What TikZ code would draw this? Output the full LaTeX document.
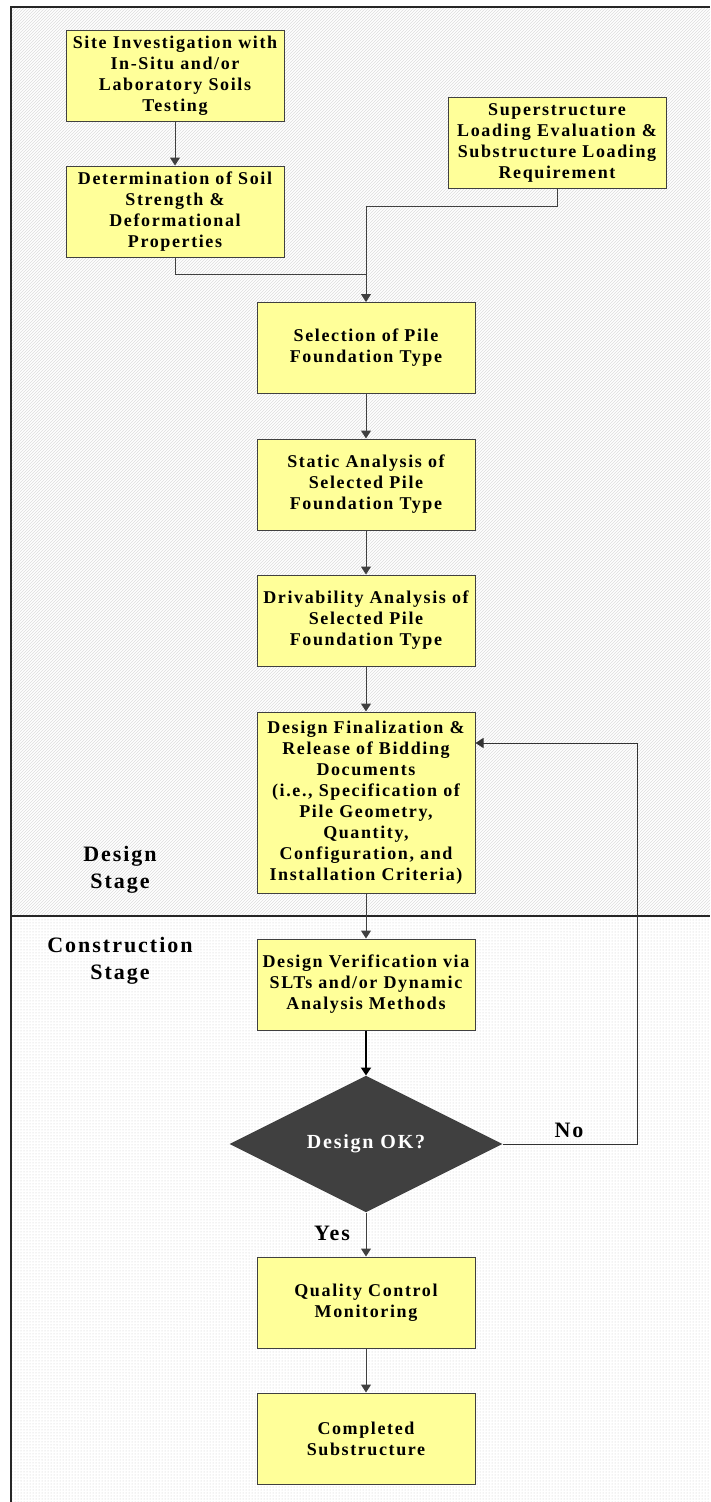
\documentclass[tikz,border=0pt]{standalone}
\usepackage{fontspec}
\setmainfont{Liberation Serif}
\newfontfamily\chartfont[LetterSpace=9]{Liberation Serif}
\usetikzlibrary{shapes.geometric,patterns,arrows.meta}
\definecolor{boxyellow}{RGB}{255,255,153}
\definecolor{boxline}{RGB}{64,64,64}
\definecolor{hatchgray}{RGB}{222,222,222}
\definecolor{dotgray}{RGB}{200,200,200}

\begin{document}
\begin{tikzpicture}[x=1pt,y=-1pt,
  stepbox/.style={draw=boxline,fill=boxyellow,line width=1pt,minimum width=218pt,
    minimum height=91pt,inner sep=0pt,align=center,
    font=\chartfont\bfseries\fontsize{18}{21}\selectfont},
  decision/.style={diamond,fill=boxline,minimum width=273pt,minimum height=136pt,
    inner sep=0pt,text=white,font=\chartfont\bfseries\fontsize{20}{24}\selectfont},
  stagelabel/.style={align=center,inner sep=0pt,
    font=\chartfont\bfseries\fontsize{22}{27}\selectfont},
  flow/.style={draw=boxline,line width=1pt,-{Triangle[width=10pt,length=8pt]}},
  link/.style={draw=boxline,line width=1pt}]
\useasboundingbox (0,0) rectangle (710,1502);
\fill[white] (0,0) rectangle (710,1502);
\fill[pattern=north east lines,pattern color=hatchgray] (11,7) rectangle (710,916);
\fill[pattern=dots,pattern color=dotgray] (11,916) rectangle (710,1502);
\draw[black!85,line width=1.5pt] (710,7) -- (11,7) -- (11,1502);
\draw[black!85,line width=1.2pt] (11,916) -- (710,916);

\node[stepbox] (site) at (175,75.5) {Site Investigation with\\In-Situ and/or\\Laboratory Soils\\Testing};
\node[stepbox] (soil) at (175,211.5) {Determination of Soil\\Strength \&\\Deformational\\Properties};
\node[stepbox] (load) at (557,143) {Superstructure\\Loading Evaluation \&\\Substructure Loading\\Requirement};
\node[stepbox] (select) at (366,348) {Selection of Pile\\Foundation Type};
\node[stepbox] (static) at (366,484.5) {Static Analysis of\\Selected Pile\\Foundation Type};
\node[stepbox] (drive) at (366,620.5) {Drivability Analysis of\\Selected Pile\\Foundation Type};
\node[stepbox,minimum height=181pt] (final) at (366,802.5) {Design Finalization \&\\Release of Bidding\\Documents\\(i.e., Specification of\\Pile Geometry,\\Quantity,\\Configuration, and\\Installation Criteria)};
\node[stepbox] (verify) at (366,984.5) {Design Verification via\\SLTs and/or Dynamic\\Analysis Methods};
\node[decision] (check) at (366,1144) {Design OK?};
\node[stepbox] (qc) at (366,1302.5) {Quality Control\\Monitoring};
\node[stepbox] (done) at (366,1438.5) {Completed\\Substructure};

\node[stagelabel] (design) at (120,870) {Design\\Stage};
\node[stagelabel] (constr) at (120,961) {Construction\\Stage};
\node[stagelabel] (no) at (569,1130) {No};
\node[stagelabel] (yes) at (332,1233) {Yes};

\coordinate (bend) at (366,206);
\coordinate (merge) at (366,274);
\coordinate (nobend) at (637,743);

\draw[flow] (site) -- (soil);
\draw[link] (soil.south) |- (merge);
\draw[flow] (load.south) |- (bend) -- (select.north);
\draw[flow] (select) -- (static);
\draw[flow] (static) -- (drive);
\draw[flow] (drive) -- (final);
\draw[flow] (final) -- (verify);
\draw[flow,draw=black,line width=2pt] (verify) -- (check.north);
\draw[link,draw=black!80] (check.east) -| (nobend);
\draw[flow,draw=black!80] (nobend) -- (final.east |- nobend);
\draw[flow] (check.south) -- (qc);
\draw[flow] (qc) -- (done);
\end{tikzpicture}
\end{document}
